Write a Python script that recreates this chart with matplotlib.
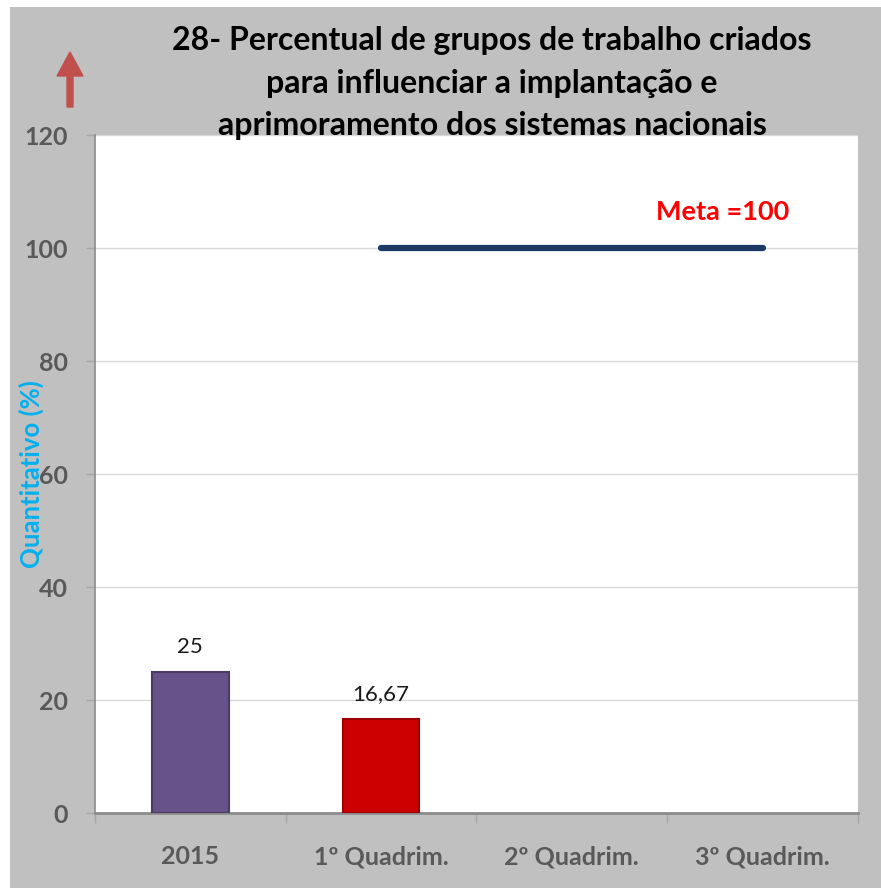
import matplotlib.pyplot as plt
from matplotlib.patches import Rectangle, FancyArrow

plt.rcParams['font.family'] = ['Lato', 'DejaVu Sans']

# data
categories = ['2015', '1º Quadrim.', '2º Quadrim.', '3º Quadrim.']
values = [25, 16.67]
value_labels = ['25', '16,67']
bar_colors = ['#67538A', '#CC0000']
bar_edges = ['#4A3B66', '#9E0000']
meta = 100
meta_span = (1, 3)  # category index where goal line starts / ends
meta_label = 'Meta =100'
title = ('28- Percentual de grupos de trabalho criados\n'
         'para influenciar a implantação e\n'
         'aprimoramento dos sistemas nacionais')

PX = 72 / 100  # points per pixel at dpi 100

fig = plt.figure(figsize=(8.81, 8.88), dpi=100, facecolor='white')
# grey chart area (white margin at top/left as in the original)
bg = Rectangle((10 / 881, 0), 1, 1 - 7 / 888, transform=fig.transFigure,
               facecolor='#C0C0C0', edgecolor='none', zorder=-10)
fig.add_artist(bg)

ax = fig.add_axes([95 / 881, 1 - 813 / 888, (858 - 95) / 881, (813 - 135) / 888])
ax.set_facecolor('white')

x = list(range(len(values)))
ax.bar(x, values, width=0.4, color=bar_colors, edgecolor=bar_edges, linewidth=1.5, zorder=3)
for xi, v, lab in zip(x, values, value_labels):
    ax.text(xi, v + 2.6, lab, ha='center', va='bottom', fontsize=16, color='#1a1a1a', zorder=4)

# goal line
ax.plot(meta_span, [meta, meta], color='#1B3A63', linewidth=4.5, solid_capstyle='round', zorder=3)
ax.text(2.79, 106.3, meta_label, ha='center', va='center', fontsize=19.5,
        fontweight='bold', color='#FF0000')

ax.set_xlim(-0.5, len(categories) - 0.5)
ax.set_ylim(0, 120)
ax.set_yticks(range(0, 121, 20))
ax.yaxis.grid(True, color='#D9D9D9', linewidth=1)
ax.set_axisbelow(True)

ax.set_xticks(range(len(categories)))
ax.set_xticklabels(categories)
ax.set_xticks([i - 0.5 for i in range(len(categories) + 1)], minor=True)
ax.tick_params(axis='x', which='major', length=0, pad=32 * PX, labelsize=18, labelcolor='#595959')
ax.tick_params(axis='x', which='minor', length=10 * PX, width=1, color='#A6A6A6', direction='out')
ax.tick_params(axis='y', length=9 * PX, width=1, color='#A6A6A6', pad=18 * PX, labelsize=18,
               labelcolor='#595959')
for lab in ax.get_xticklabels() + ax.get_yticklabels():
    lab.set_fontweight('bold')

for side in ['top', 'right']:
    ax.spines[side].set_visible(False)
ax.spines['left'].set_color('#8C8C8C')
ax.spines['left'].set_linewidth(1.2)
ax.spines['bottom'].set_color('#8C8C8C')
ax.spines['bottom'].set_linewidth(2)

fig.text(31 / 881, 1 - 474 / 888, 'Quantitativo (%)', rotation=90, ha='center', va='center',
         fontsize=18.5, fontweight='bold', color='#00B0F0')

fig.text(492 / 881, 1 - 83 / 888, title, ha='center', va='center', fontsize=23,
         fontweight='bold', color='black', linespacing=1.56)

# decorative arrow
fig.add_artist(FancyArrow(70 / 881, 1 - 107 / 888, 0, 55 / 888, width=6 / 881,
                          head_width=26 / 881, head_length=24 / 888,
                          length_includes_head=True, transform=fig.transFigure,
                          facecolor='#C0504D', edgecolor='#C0504D'))

fig.savefig('out.png', dpi=100, facecolor='white')
